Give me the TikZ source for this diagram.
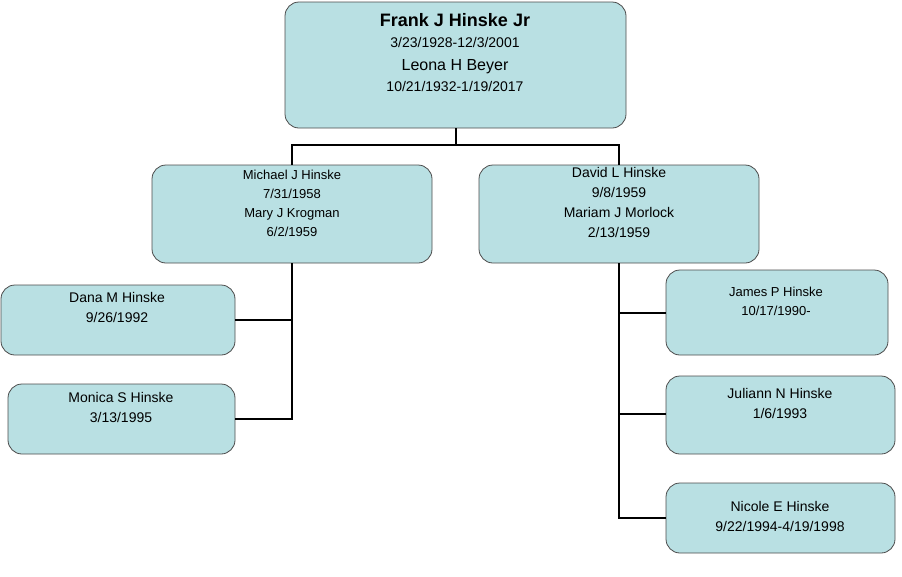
\documentclass[tikz,border=0pt]{standalone}
\usepackage{fontspec}
\setmainfont{Liberation Sans}
\begin{document}
\begin{tikzpicture}[x=1pt,y=-1pt,
  pbox/.style={draw=black!70,fill=boxc,rounded corners=14pt,line width=0.8pt},
  ptxt/.style={anchor=north,align=center,font=\fontsize{14}{20}\selectfont,inner sep=0pt},
  link/.style={line width=2pt,black}]
\definecolor{boxc}{HTML}{B9E0E3}
\useasboundingbox (0,0) rectangle (902,576);
% boxes
\draw[pbox] (285,2) rectangle (626,128);
\draw[pbox] (152,165) rectangle (432,263);
\draw[pbox] (479,165) rectangle (759,263);
\draw[pbox] (1,285) rectangle (235,355);
\draw[pbox] (8,384) rectangle (235,454);
\draw[pbox] (666,270) rectangle (888,355);
\draw[pbox] (666,376) rectangle (895,454);
\draw[pbox] (666,483) rectangle (895,553);
% texts
\node[ptxt,font=\fontsize{18}{22}\selectfont\bfseries] (t1) at (455,13) {Frank J Hinske Jr};
\node[ptxt,font=\fontsize{14}{22}\selectfont] (t2) at (455,37) {3/23/1928-12/3/2001};
\node[ptxt,font=\fontsize{16}{22}\selectfont] (t3) at (455,59) {Leona H Beyer};
\node[ptxt,font=\fontsize{14}{22}\selectfont] (t4) at (455,81) {10/21/1932-1/19/2017};
\node[ptxt,font=\fontsize{13}{19}\selectfont] (m) at (292,170) {Michael J Hinske\\7/31/1958\\Mary J Krogman\\6/2/1959};
\node[ptxt,font=\fontsize{14}{20}\selectfont] (d) at (619,167) {David L Hinske\\9/8/1959\\Mariam J Morlock\\2/13/1959};
\node[ptxt] (da) at (117,292) {Dana M Hinske\\9/26/1992};
\node[ptxt] (mo) at (121,392) {Monica S Hinske\\3/13/1995};
\node[ptxt,font=\fontsize{13}{19}\selectfont] (ja) at (776,287) {James P Hinske\\10/17/1990-};
\node[ptxt] (ju) at (780,388) {Juliann N Hinske\\1/6/1993};
\node[ptxt] (ni) at (780,501) {Nicole E Hinske\\9/22/1994-4/19/1998};
% connectors
\coordinate (a) at (456,128); \coordinate (b) at (456,145);
\draw[link] (a) -- (b);
\draw[link] (292,145) -- (619,145);
\draw[link] (292,144) -- (292,165);
\draw[link] (619,144) -- (619,165);
\draw[link] (292,263) -- (292,420);
\draw[link] (293,320) -- (235,320);
\draw[link] (293,419) -- (235,419);
\draw[link] (619,263) -- (619,519);
\draw[link] (618,313) -- (666,313);
\draw[link] (618,414) -- (666,414);
\draw[link] (618,518) -- (666,518);
\end{tikzpicture}
\end{document}
